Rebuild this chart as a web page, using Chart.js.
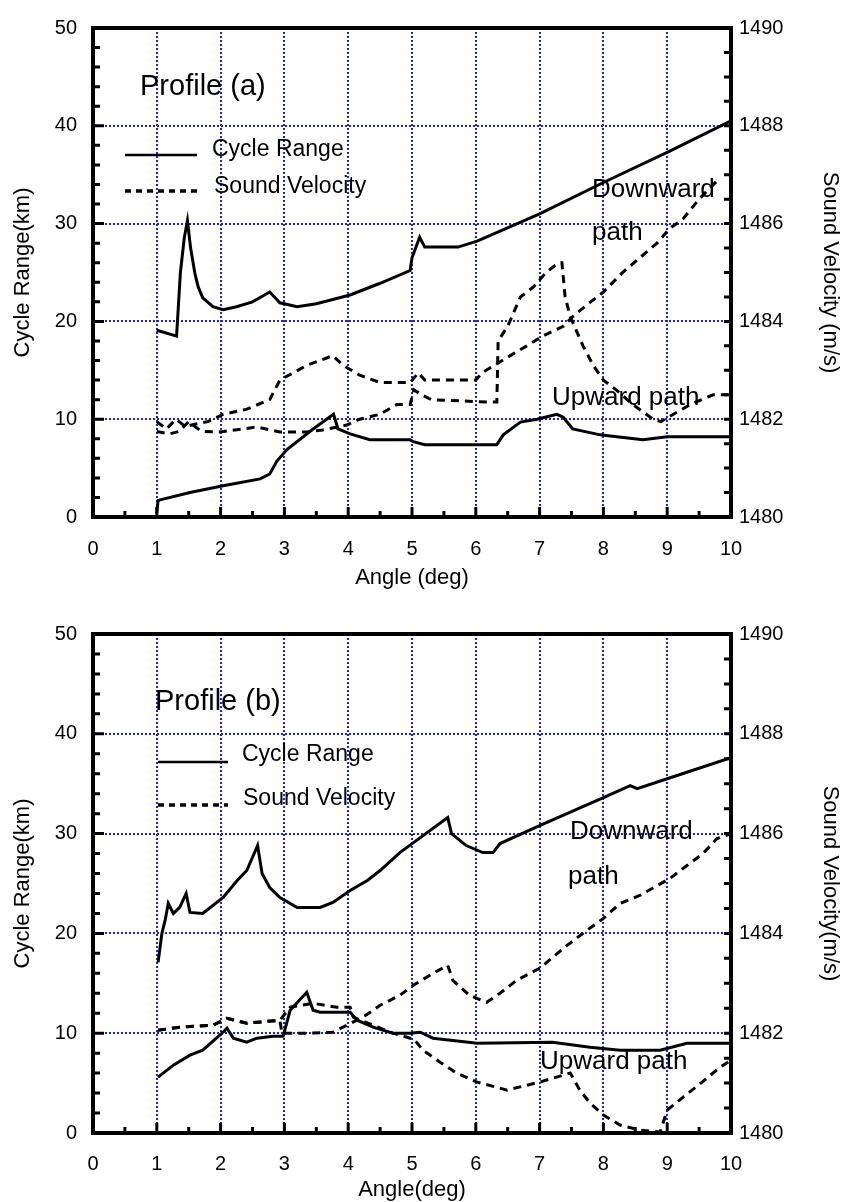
<!DOCTYPE html>
<html>
<head>
<meta charset="utf-8">
<script src="https://cdn.jsdelivr.net/npm/chart.js@4.4.1/dist/chart.umd.min.js"></script>
<style>
  body { margin: 0; background: #fff; }
  .box { position: absolute; left: 0; width: 863px; }
</style>
</head>
<body>
<div class="box" style="top:0;height:600px"><canvas id="chartA"></canvas></div>
<div class="box" style="top:600px;height:602px"><canvas id="chartB"></canvas></div>
<script>
'use strict';

// tick labels
const angleTicks = [0, 1, 2, 3, 4, 5, 6, 7, 8, 9, 10];
const rangeTicks = [0, 10, 20, 30, 40, 50];
const velocityTicks = [1480, 1482, 1484, 1486, 1488, 1490];

// Profile (a) - cycle range, downward path
const aDownAngle = [1.0, 1.31, 1.37, 1.43, 1.48, 1.53, 1.6, 1.65, 1.72, 1.88, 2.04, 2.25, 2.5, 2.77, 2.93, 3.2, 3.5, 4.03, 4.5, 4.97, 5.0, 5.12, 5.2, 5.72, 6.02, 7.0, 8.0, 9.04, 10.0];
const aDownRange = [19.1, 18.5, 25.0, 28.5, 30.3, 27.5, 24.8, 23.5, 22.4, 21.5, 21.2, 21.5, 22.0, 23.0, 21.9, 21.5, 21.8, 22.7, 23.9, 25.2, 26.5, 28.6, 27.6, 27.6, 28.2, 31.0, 34.2, 37.4, 40.5];
// Profile (a) - cycle range, upward path
const aUpAngle = [1.0, 1.02, 1.52, 2.04, 2.62, 2.77, 2.88, 3.04, 3.45, 3.77, 3.84, 4.03, 4.34, 4.97, 5.02, 5.2, 6.33, 6.43, 6.7, 6.96, 7.27, 7.37, 7.52, 7.95, 8.21, 8.62, 9.0, 10.0];
const aUpRange = [0.4, 1.7, 2.5, 3.2, 3.9, 4.4, 5.7, 6.9, 9.0, 10.5, 9.0, 8.5, 7.9, 7.9, 7.7, 7.4, 7.4, 8.4, 9.7, 10.0, 10.5, 10.2, 9.0, 8.4, 8.2, 7.9, 8.2, 8.2];
// Profile (a) - sound velocity, downward path
const aDownVelAngle = [1.0, 1.15, 1.3, 1.45, 1.6, 1.8, 2.04, 2.4, 2.77, 2.93, 3.35, 3.76, 3.92, 4.18, 4.5, 4.97, 5.1, 5.2, 6.0, 6.1, 6.54, 6.8, 7.05, 7.37, 7.52, 7.8, 8.0, 8.3, 8.57, 8.84, 9.04, 9.25, 9.5, 9.8];
const aDownVel = [1481.95, 1481.8, 1482.0, 1481.85, 1481.9, 1481.95, 1482.1, 1482.2, 1482.4, 1482.8, 1483.1, 1483.3, 1483.1, 1482.9, 1482.75, 1482.75, 1482.95, 1482.8, 1482.8, 1482.95, 1483.3, 1483.5, 1483.7, 1483.9, 1484.1, 1484.4, 1484.6, 1485.0, 1485.3, 1485.6, 1485.9, 1486.1, 1486.5, 1486.9];
// Profile (a) - sound velocity, upward path
const aUpVelAngle = [1.0, 1.2, 1.35, 1.5, 1.7, 2.0, 2.57, 2.93, 3.35, 3.6, 3.98, 4.18, 4.5, 4.76, 4.97, 5.03, 5.15, 5.3, 6.2, 6.33, 6.35, 6.5, 6.6, 6.7, 6.9, 7.1, 7.3, 7.35, 7.4, 7.48, 7.68, 7.84, 8.0, 8.2, 8.46, 8.78, 8.9, 9.36, 9.72, 9.95];
const aUpVel = [1481.75, 1481.7, 1481.75, 1481.95, 1481.75, 1481.74, 1481.84, 1481.74, 1481.74, 1481.78, 1481.88, 1482.0, 1482.1, 1482.3, 1482.3, 1482.6, 1482.5, 1482.4, 1482.35, 1482.35, 1483.6, 1483.9, 1484.2, 1484.5, 1484.7, 1485.0, 1485.2, 1485.2, 1484.5, 1484.1, 1483.5, 1483.1, 1482.8, 1482.6, 1482.3, 1482.0, 1481.95, 1482.3, 1482.5, 1482.5];

// Profile (b) - cycle range, downward path
const bDownAngle = [1.02, 1.08, 1.13, 1.18, 1.26, 1.36, 1.46, 1.52, 1.72, 2.04, 2.26, 2.41, 2.58, 2.65, 2.77, 2.93, 3.2, 3.56, 3.76, 4.03, 4.3, 4.5, 4.81, 5.56, 5.62, 5.85, 6.11, 6.27, 6.38, 7.0, 8.0, 8.42, 8.53, 9.0, 10.0];
const bDownRange = [17.1, 20.0, 21.3, 23.0, 22.0, 22.6, 24.0, 22.1, 22.0, 23.6, 25.3, 26.3, 28.8, 26.0, 24.6, 23.6, 22.6, 22.6, 23.1, 24.3, 25.3, 26.3, 28.1, 31.6, 30.0, 28.8, 28.1, 28.1, 29.0, 30.8, 33.6, 34.8, 34.5, 35.5, 37.6];
// Profile (b) - cycle range, upward path
const bUpAngle = [1.02, 1.26, 1.52, 1.72, 2.04, 2.1, 2.2, 2.41, 2.57, 2.82, 2.98, 3.09, 3.35, 3.45, 3.56, 4.03, 4.14, 4.39, 4.7, 4.97, 5.13, 5.33, 6.02, 7.2, 7.79, 8.26, 8.89, 9.31, 10.0];
const bUpRange = [5.6, 6.8, 7.8, 8.3, 10.1, 10.5, 9.5, 9.1, 9.5, 9.7, 9.7, 12.3, 14.1, 12.3, 12.1, 12.1, 11.3, 10.6, 10.0, 10.0, 10.1, 9.5, 9.0, 9.1, 8.6, 8.3, 8.3, 9.0, 9.0];
// Profile (b) - sound velocity, downward path
const bDownVelAngle = [1.02, 1.36, 1.88, 2.1, 2.41, 2.93, 2.96, 3.4, 3.76, 3.98, 4.23, 4.5, 4.81, 5.02, 5.33, 5.56, 5.64, 5.9, 6.17, 6.38, 6.64, 7.0, 7.43, 7.74, 8.0, 8.26, 8.57, 9.04, 9.31, 9.56, 9.78, 10.0];
const bDownVel = [1482.06, 1482.12, 1482.16, 1482.3, 1482.2, 1482.26, 1482.0, 1482.0, 1482.02, 1482.16, 1482.32, 1482.56, 1482.76, 1482.96, 1483.2, 1483.36, 1483.06, 1482.76, 1482.62, 1482.8, 1483.06, 1483.3, 1483.76, 1484.06, 1484.3, 1484.6, 1484.76, 1485.1, 1485.36, 1485.6, 1485.9, 1486.0];
// Profile (b) - sound velocity, upward path
const bUpVelAngle = [1.02, 1.36, 1.88, 2.1, 2.41, 2.93, 3.09, 3.45, 3.82, 4.03, 4.08, 4.39, 4.7, 4.97, 5.02, 5.17, 5.44, 5.7, 6.02, 6.49, 7.0, 7.48, 7.63, 7.79, 8.0, 8.26, 8.57, 8.89, 9.0, 9.25, 9.51, 9.83, 10.0];
const bUpVel = [1482.06, 1482.12, 1482.16, 1482.3, 1482.2, 1482.26, 1482.52, 1482.6, 1482.52, 1482.52, 1482.32, 1482.16, 1482.0, 1481.9, 1481.9, 1481.66, 1481.42, 1481.2, 1481.02, 1480.86, 1481.02, 1481.2, 1480.86, 1480.6, 1480.36, 1480.16, 1480.06, 1480.02, 1480.46, 1480.72, 1480.98, 1481.32, 1481.46];

const FONT = "'Liberation Sans', Arial, sans-serif";
const GRID_BLUE = 'rgb(30, 30, 235)';

function pts(xs, ys) {
  return xs.map((x, i) => ({ x: x, y: ys[i] }));
}

function lineSet(label, xs, ys, axis, dashed) {
  return {
    label: label,
    data: pts(xs, ys),
    yAxisID: axis,
    borderColor: '#000',
    borderWidth: 3,
    borderDash: dashed ? [8, 6] : [],
    pointRadius: 0,
    tension: 0,
    fill: false
  };
}

function innerGrid(lo, hi) {
  return ctx => (ctx.tick && ctx.tick.value > lo && ctx.tick.value < hi) ? GRID_BLUE : 'rgba(0,0,0,0)';
}

// plain numbers, no thousands separator
const plainLabel = v => String(v);

// frame, inward ticks, legend and notes
const framePlugin = {
  id: 'frame',
  afterDatasetsDraw(chart, args, opts) {
    const ctx = chart.ctx, a = chart.chartArea;
    const sx = chart.scales.x, sy = chart.scales.y, sr = chart.scales.y1;
    ctx.save();
    ctx.strokeStyle = '#000';
    ctx.setLineDash([]);
    ctx.lineWidth = 3;
    ctx.beginPath();
    for (let v = 0; v <= 50; v += 2) {
      const y = sy.getPixelForValue(v);
      ctx.moveTo(a.left, y);
      ctx.lineTo(a.left + (v % 10 === 0 ? 11 : 7), y);
    }
    for (let v = 0; v <= 10; v += 0.5) {
      const x = sx.getPixelForValue(v);
      ctx.moveTo(x, a.bottom);
      ctx.lineTo(x, a.bottom - (v % 1 === 0 ? 10 : 6));
    }
    for (let v = 1480; v <= 1490; v += 0.5) {
      const y = sr.getPixelForValue(v);
      ctx.moveTo(a.right, y);
      ctx.lineTo(a.right - 7, y);
    }
    ctx.stroke();
    ctx.lineWidth = 4;
    ctx.strokeRect(a.left, a.top, a.width, a.height);

    // legend samples
    const lg = opts.legend;
    ctx.lineWidth = 2.5;
    ctx.beginPath();
    ctx.moveTo(lg.x0, lg.y1);
    ctx.lineTo(lg.x1, lg.y1);
    ctx.stroke();
    ctx.setLineDash([6, 5]);
    ctx.lineWidth = 3.5;
    ctx.beginPath();
    ctx.moveTo(lg.x0, lg.y2);
    ctx.lineTo(lg.x1, lg.y2);
    ctx.stroke();
    ctx.setLineDash([]);

    ctx.fillStyle = '#000';
    ctx.textBaseline = 'middle';
    ctx.textAlign = 'left';
    opts.notes.forEach(n => {
      ctx.font = n.size + 'px ' + FONT;
      ctx.fillText(n.text, n.x, n.y);
    });
    ctx.restore();
  }
};

function makeChart(id, sets, s) {
  return new Chart(document.getElementById(id), {
    type: 'line',
    data: { datasets: sets },
    plugins: [framePlugin],
    options: {
      responsive: true,
      maintainAspectRatio: false,
      animation: false,
      layout: { padding: { top: s.top, left: 0, right: 0, bottom: 0 } },
      plugins: {
        legend: { display: false },
        tooltip: { enabled: false },
        frame: { legend: s.legend, notes: s.notes }
      },
      scales: {
        x: {
          type: 'linear',
          min: 0,
          max: 10,
          afterBuildTicks: sc => { sc.ticks = angleTicks.map(v => ({ value: v })); },
          afterFit: sc => { sc.height = s.xHeight; },
          ticks: { color: '#000', font: { family: FONT, size: 20 }, padding: s.xPad, maxRotation: 0, autoSkip: false, callback: plainLabel },
          grid: { color: innerGrid(0, 10), lineWidth: 2, drawTicks: false },
          border: { display: false, dash: [2, 2] },
          title: { display: true, text: s.xTitle, color: '#000', font: { family: FONT, size: 22, lineHeight: 1 }, padding: { top: 0, bottom: s.xTitlePad } }
        },
        y: {
          type: 'linear',
          position: 'left',
          min: 0,
          max: 50,
          afterBuildTicks: sc => { sc.ticks = rangeTicks.map(v => ({ value: v })); },
          afterFit: sc => { sc.width = 93; },
          ticks: { color: '#000', font: { family: FONT, size: 20 }, padding: 16, callback: plainLabel },
          grid: { color: innerGrid(0, 50), lineWidth: 2, drawTicks: false },
          border: { display: false, dash: [2, 2] },
          title: { display: true, text: 'Cycle Range(km)', color: '#000', font: { family: FONT, size: 22, lineHeight: 1 }, padding: { top: 12, bottom: 0 } }
        },
        y1: {
          type: 'linear',
          position: 'right',
          min: 1480,
          max: 1490,
          afterBuildTicks: sc => { sc.ticks = velocityTicks.map(v => ({ value: v })); },
          afterFit: sc => { sc.width = 132; },
          ticks: { color: '#000', font: { family: FONT, size: 20 }, padding: 8, callback: plainLabel },
          grid: { display: false, drawTicks: false },
          border: { display: false },
          title: { display: true, text: s.rTitle, color: '#000', font: { family: FONT, size: 22, lineHeight: 1 }, padding: { top: 22, bottom: 0 } }
        }
      }
    }
  });
}

makeChart('chartA', [
  lineSet('Cycle Range', aDownAngle, aDownRange, 'y', false),
  lineSet('Cycle Range', aUpAngle, aUpRange, 'y', false),
  lineSet('Sound Velocity', aDownVelAngle, aDownVel, 'y1', true),
  lineSet('Sound Velocity', aUpVelAngle, aUpVel, 'y1', true)
], {
  top: 17, xHeight: 83, xPad: 20, xTitlePad: 11,
  xTitle: 'Angle (deg)', rTitle: 'Sound Velocity (m/s)',
  legend: { x0: 125, x1: 197, y1: 155, y2: 191 },
  notes: [
    { text: 'Profile (a)', x: 140, y: 87, size: 29 },
    { text: 'Cycle Range', x: 212, y: 150, size: 23 },
    { text: 'Sound Velocity', x: 214, y: 187, size: 23 },
    { text: 'Downward', x: 592, y: 190, size: 26 },
    { text: 'path', x: 592, y: 233, size: 26 },
    { text: 'Upward path', x: 552, y: 398, size: 26 }
  ]
});

makeChart('chartB', [
  lineSet('Cycle Range', bDownAngle, bDownRange, 'y', false),
  lineSet('Cycle Range', bUpAngle, bUpRange, 'y', false),
  lineSet('Sound Velocity', bDownVelAngle, bDownVel, 'y1', true),
  lineSet('Sound Velocity', bUpVelAngle, bUpVel, 'y1', true)
], {
  top: 34, xHeight: 69, xPad: 19, xTitlePad: 1,
  xTitle: 'Angle(deg)', rTitle: 'Sound Velocity(m/s)',
  legend: { x0: 158, x1: 228, y1: 162, y2: 205 },
  notes: [
    { text: 'Profile (b)', x: 155, y: 102, size: 29 },
    { text: 'Cycle Range', x: 242, y: 155, size: 23 },
    { text: 'Sound Velocity', x: 243, y: 199, size: 23 },
    { text: 'Downward', x: 570, y: 232, size: 26 },
    { text: 'path', x: 568, y: 277, size: 26 },
    { text: 'Upward path', x: 540, y: 462, size: 26 }
  ]
});
</script>
</body>
</html>
